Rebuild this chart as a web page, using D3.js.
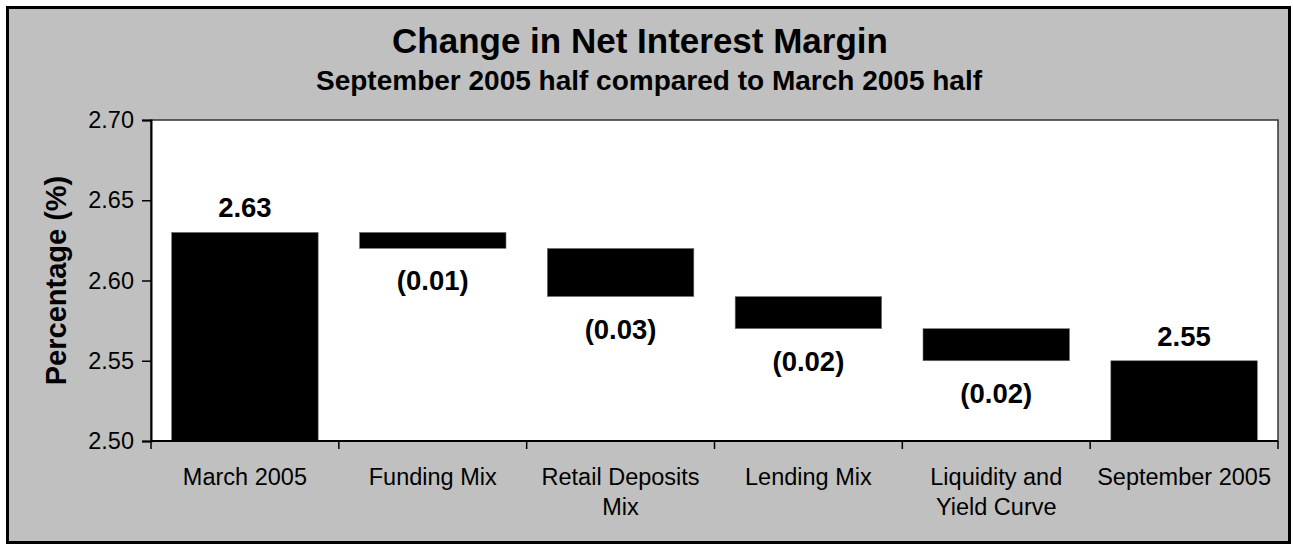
<!DOCTYPE html>
<html>
<head>
<meta charset="utf-8">
<script src="https://cdn.jsdelivr.net/npm/d3@7"></script>
<style>
  html, body { margin: 0; padding: 0; background: #ffffff; }
  svg { display: block; }
  text { font-family: "Liberation Sans", Arial, sans-serif; fill: #000; }
</style>
</head>
<body>
<svg id="chart" width="1293" height="545"></svg>
<script>
// ---- data ----
const categories = ["March 2005", "Funding Mix", "Retail Deposits Mix", "Lending Mix", "Liquidity and Yield Curve", "September 2005"];
const categoryLines = [["March 2005"], ["Funding Mix"], ["Retail Deposits", "Mix"], ["Lending Mix"], ["Liquidity and", "Yield Curve"], ["September 2005"]];
const barStart = [2.50, 2.63, 2.62, 2.59, 2.57, 2.50];
const barEnd   = [2.63, 2.62, 2.59, 2.57, 2.55, 2.55];
const valueLabels = ["2.63", "(0.01)", "(0.03)", "(0.02)", "(0.02)", "2.55"];
const isTotal = [true, false, false, false, false, true];
const yTicks = [2.50, 2.55, 2.60, 2.65, 2.70];
const titleText = "Change in Net Interest Margin";
const subtitleText = "September 2005 half compared to March 2005 half";
const yAxisTitle = "Percentage (%)";

// ---- layout ----
const svg = d3.select("#chart");
const plot = { left: 151, right: 1278, top: 120, bottom: 441 };

// outer frame
svg.append("rect")
  .attr("x", 7.5).attr("y", 7.5)
  .attr("width", 1282).attr("height", 535)
  .attr("fill", "#C0C0C0")
  .attr("stroke", "#000").attr("stroke-width", 3);

// titles
svg.append("text")
  .attr("x", 640).attr("y", 53)
  .attr("text-anchor", "middle")
  .attr("font-size", 35).attr("font-weight", "bold")
  .text(titleText);
svg.append("text")
  .attr("x", 649).attr("y", 90)
  .attr("text-anchor", "middle")
  .attr("font-size", 28).attr("font-weight", "bold")
  .text(subtitleText);

// scales
const x = d3.scaleBand()
  .domain(categories)
  .range([plot.left, plot.right])
  .paddingInner(0.22)
  .paddingOuter(0.11);
const xCat = d3.scaleBand().domain(categories).range([plot.left, plot.right]).padding(0);
const y = d3.scaleLinear().domain([2.50, 2.70]).range([plot.bottom, plot.top]);

// plot area
svg.append("rect")
  .attr("x", plot.left).attr("y", plot.top)
  .attr("width", plot.right - plot.left).attr("height", plot.bottom - plot.top)
  .attr("fill", "#fff")
  .attr("stroke", "#333").attr("stroke-width", 1.5);

// bars
svg.append("g").selectAll("rect")
  .data(categories)
  .join("rect")
  .attr("x", d => x(d))
  .attr("width", x.bandwidth())
  .attr("y", (d, i) => y(Math.max(barStart[i], barEnd[i])))
  .attr("height", (d, i) => Math.abs(y(barStart[i]) - y(barEnd[i])))
  .attr("fill", "#000")
  .attr("stroke", "#777").attr("stroke-width", 0.6);

// value labels
svg.append("g").selectAll("text")
  .data(categories)
  .join("text")
  .attr("x", d => x(d) + x.bandwidth() / 2)
  .attr("y", (d, i) => isTotal[i]
      ? y(Math.max(barStart[i], barEnd[i])) - 15
      : y(Math.min(barStart[i], barEnd[i])) + 42)
  .attr("text-anchor", "middle")
  .attr("font-size", 27.5).attr("font-weight", "bold")
  .text((d, i) => valueLabels[i]);

// y axis
const yAxis = d3.axisLeft(y)
  .tickValues(yTicks)
  .tickFormat(d3.format(".2f"))
  .tickSize(9)
  .tickPadding(8);
const gy = svg.append("g")
  .attr("transform", `translate(${plot.left},0)`)
  .call(yAxis);
gy.select(".domain").attr("stroke", "#000").attr("stroke-width", 2);
gy.selectAll(".tick line").attr("stroke", "#000").attr("stroke-width", 1.5);
gy.selectAll(".tick text")
  .attr("font-size", 23.5)
  .attr("font-family", "'Liberation Sans', Arial, sans-serif")
  .attr("fill", "#000");

// x axis (ticks at category boundaries)
const gx = svg.append("g").attr("transform", `translate(0,${plot.bottom})`);
gx.append("line")
  .attr("x1", plot.left).attr("x2", plot.right)
  .attr("stroke", "#000").attr("stroke-width", 2);
const boundaries = categories.map(c => xCat(c)).concat([plot.right]);
gx.selectAll("line.tk")
  .data(boundaries)
  .join("line")
  .attr("class", "tk")
  .attr("x1", d => d).attr("x2", d => d)
  .attr("y1", 0).attr("y2", 8)
  .attr("stroke", "#000").attr("stroke-width", 1.5);

const catLabels = gx.selectAll("text.cat")
  .data(categories)
  .join("text")
  .attr("class", "cat")
  .attr("text-anchor", "middle")
  .attr("font-size", 23.5)
  .attr("x", d => xCat(d) + xCat.bandwidth() / 2)
  .attr("y", 44);
catLabels.selectAll("tspan")
  .data((d, i) => categoryLines[i])
  .join("tspan")
  .attr("x", function() { return d3.select(this.parentNode).attr("x"); })
  .attr("dy", (d, j) => j === 0 ? 0 : 30)
  .text(d => d);

// y axis title
svg.append("text")
  .attr("transform", `translate(66,${(plot.top + plot.bottom) / 2}) rotate(-90)`)
  .attr("text-anchor", "middle")
  .attr("font-size", 29).attr("font-weight", "bold")
  .text(yAxisTitle);
</script>
</body>
</html>
